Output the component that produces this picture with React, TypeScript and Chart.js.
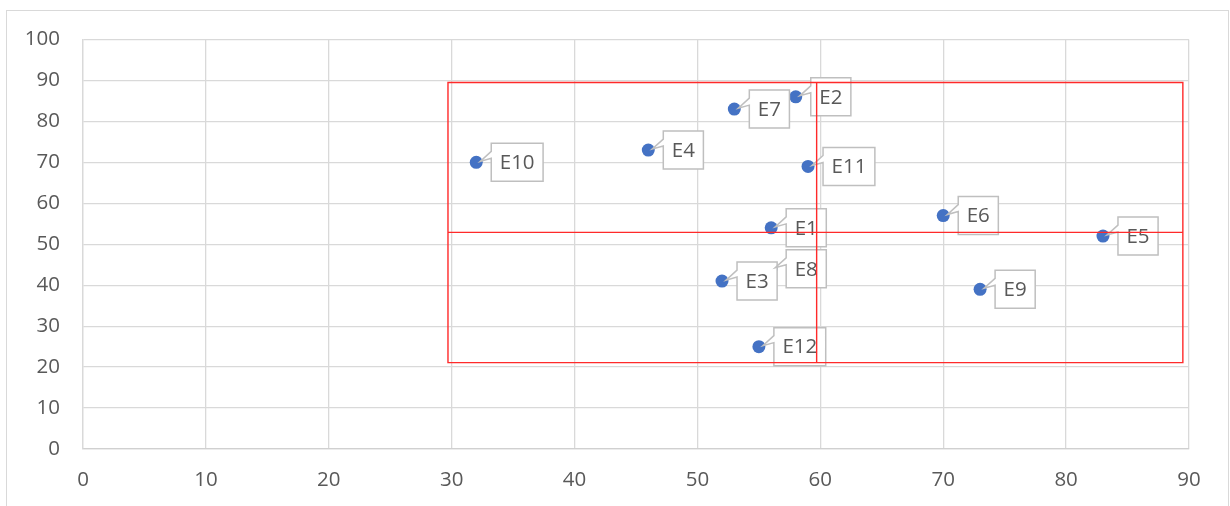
import React, { useEffect, useRef } from "react";
import { Chart, registerables } from "chart.js";

Chart.register(...registerables);

// ---- data ----
const pointLabels = ["E1", "E2", "E3", "E4", "E5", "E6", "E7", "E8", "E9", "E10", "E11", "E12"];
const xValues = [56, 58, 52, 46, 83, 70, 53, 56, 73, 32, 59, 55];
const yValues = [54, 86, 41, 73, 52, 57, 83, 44, 39, 70, 69, 25];
const xRange = [0, 90];
const yRange = [0, 100];
const tickStep = 10;
// red quadrant frame (data units)
const frameX = [29.7, 89.5];
const frameY = [21.1, 89.5];
const crossX = 59.7;
const crossY = 52.9;

const FONT = "'Open Sans', 'Noto Sans', sans-serif";
const FONT_SIZE = 20.5;
const TEXT_COLOR = "#595959";

export default function App() {
  const canvasRef = useRef<HTMLCanvasElement | null>(null);

  useEffect(() => {
    const canvas = canvasRef.current;
    if (!canvas) return;

    const borderPlugin = {
      id: "outerBorder",
      beforeDraw(chart: any) {
        const ctx = chart.ctx;
        ctx.save();
        ctx.fillStyle = "#ffffff";
        ctx.fillRect(0, 0, chart.width, chart.height);
        ctx.strokeStyle = "#d9d9d9";
        ctx.lineWidth = 1;
        ctx.strokeRect(6.5, 10.5, 1222, 520);
        ctx.restore();
      },
    };

    const calloutPlugin = {
      id: "callouts",
      afterDatasetsDraw(chart: any) {
        const ctx = chart.ctx;
        const xs = chart.scales.x;
        const ys = chart.scales.y;
        ctx.save();
        ctx.font = `${FONT_SIZE}px ${FONT}`;
        for (let i = 0; i < pointLabels.length; i++) {
          const px = xs.getPixelForValue(xValues[i]);
          const py = ys.getPixelForValue(yValues[i]);
          const tw = ctx.measureText(pointLabels[i]).width;
          const L = px + 15;
          const T = py - 19;
          const W = tw + 17;
          const H = 38;
          ctx.beginPath();
          ctx.moveTo(L, T);
          ctx.lineTo(L + W, T);
          ctx.lineTo(L + W, T + H);
          ctx.lineTo(L, T + H);
          ctx.lineTo(L, T + 15);
          ctx.lineTo(px + 4, py - 1);
          ctx.lineTo(L, T + 8);
          ctx.closePath();
          ctx.fillStyle = "#ffffff";
          ctx.fill();
          ctx.strokeStyle = "#bfbfbf";
          ctx.lineWidth = 1.5;
          ctx.lineJoin = "miter";
          ctx.stroke();
          ctx.fillStyle = TEXT_COLOR;
          ctx.textAlign = "left";
          ctx.textBaseline = "middle";
          ctx.fillText(pointLabels[i], L + 8.5, py + 1);
        }
        ctx.restore();
      },
    };

    const framePlugin = {
      id: "redFrame",
      afterDraw(chart: any) {
        const ctx = chart.ctx;
        const xs = chart.scales.x;
        const ys = chart.scales.y;
        const x0 = xs.getPixelForValue(frameX[0]);
        const x1 = xs.getPixelForValue(frameX[1]);
        const y0 = ys.getPixelForValue(frameY[0]);
        const y1 = ys.getPixelForValue(frameY[1]);
        const cx = xs.getPixelForValue(crossX);
        const cy = ys.getPixelForValue(crossY);
        ctx.save();
        ctx.strokeStyle = "#ff2a2a";
        ctx.lineWidth = 1.4;
        ctx.beginPath();
        ctx.rect(x0, y1, x1 - x0, y0 - y1);
        ctx.moveTo(cx, y1);
        ctx.lineTo(cx, y0);
        ctx.moveTo(x0, cy);
        ctx.lineTo(x1, cy);
        ctx.stroke();
        ctx.restore();
      },
    };

    const chart = new Chart(canvas, {
      type: "scatter",
      data: {
        datasets: [
          {
            data: xValues.map((x, i) => ({ x, y: yValues[i] })),
            backgroundColor: "#4472C4",
            borderColor: "#4472C4",
            borderWidth: 0,
            pointRadius: 6.5,
            pointHoverRadius: 6.5,
          },
        ],
      },
      options: {
        responsive: false,
        animation: false,
        events: [],
        layout: { padding: { top: 39.5, right: 41, left: 0, bottom: 0 } },
        plugins: {
          legend: { display: false },
          tooltip: { enabled: false },
        },
        scales: {
          x: {
            type: "linear",
            min: xRange[0],
            max: xRange[1],
            ticks: {
              stepSize: tickStep,
              color: TEXT_COLOR,
              font: { family: FONT, size: FONT_SIZE },
              padding: 19,
            },
            grid: { color: "#d9d9d9", lineWidth: 1.3, drawTicks: false },
            border: { color: "#d0d0d0", width: 1.3 },
            afterFit: (s: any) => {
              s.height = 57;
            },
          },
          y: {
            type: "linear",
            min: yRange[0],
            max: yRange[1],
            ticks: {
              stepSize: tickStep,
              color: TEXT_COLOR,
              font: { family: FONT, size: FONT_SIZE },
              padding: 23,
            },
            grid: { color: "#d9d9d9", lineWidth: 1.3, drawTicks: false },
            border: { color: "#d9d9d9", width: 1.3 },
            afterFit: (s: any) => {
              s.width = 83;
            },
          },
        },
      },
      plugins: [borderPlugin, calloutPlugin, framePlugin],
    });

    return () => chart.destroy();
  }, []);

  return (
    <div style={{ position: "absolute", left: 0, top: 0, width: 1230, height: 506 }}>
      <canvas ref={canvasRef} width={1230} height={506} style={{ display: "block" }} />
    </div>
  );
}
